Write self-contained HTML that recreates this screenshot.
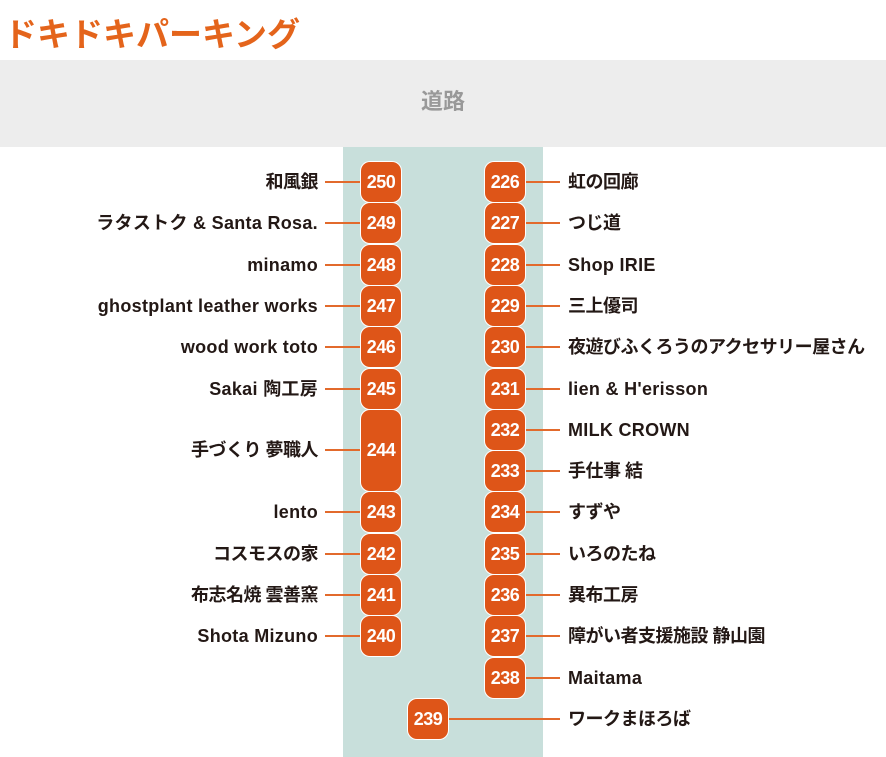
<!DOCTYPE html>
<html><head><meta charset="utf-8"><style>
body{margin:0;width:886px;height:757px;position:relative;background:#fff;overflow:hidden;font-family:"Liberation Sans","Noto Sans CJK JP",sans-serif;}
.title{position:absolute;left:4px;top:8px;font-size:33px;font-weight:bold;color:#e4641b;letter-spacing:0px;}
.road{position:absolute;left:0;top:60px;width:886px;height:87px;background:#ededed;color:#999;font-size:22px;font-weight:bold;text-align:center;line-height:84px;}
.strip{position:absolute;left:343px;top:147px;width:200px;height:610px;background:#c8dfdb;}
.b{position:absolute;width:40px;background:#de5518;color:#fff;font-weight:bold;font-size:18px;letter-spacing:-0.5px;text-align:center;border-radius:9px;box-shadow:0 0 0 1px #fff;}
.l{position:absolute;height:2px;background:#e26a2c;}
.t{position:absolute;font-size:18px;color:#231815;font-weight:bold;white-space:nowrap;line-height:24px;letter-spacing:0.3px;}
.tl{right:568px;text-align:right;}
.tr{left:568px;}
.j{letter-spacing:-0.5px;}
</style></head><body>
<div class="title">ドキドキパーキング</div>
<div class="road">道路</div>
<div class="strip"></div>
<div id="c"></div>
<script>
var c=document.getElementById('c'),h='';
function cy(i){return 182+41.3*i;}
var L=[['250','和風銀',0],['249','ラタストク & Santa Rosa.',1],['248','minamo',2],['247','ghostplant leather works',3],['246','wood work toto',4],['245','Sakai 陶工房',5],['244','手づくり 夢職人',6.5,1],['243','lento',8],['242','コスモスの家',9],['241','布志名焼 雲善窯',10],['240','Shota Mizuno',11]];
function isJ(s){return /[^\x00-\x7f]/.test(s)&&!/[a-z]/i.test(s);}
L.forEach(function(a){var y=cy(a[2]);var hh=a[3]?81:40;
h+='<div class="l" style="left:325px;width:36px;top:'+(y-1)+'px"></div>';
h+='<div class="b" style="left:361px;top:'+(y-hh/2)+'px;height:'+hh+'px;line-height:'+hh+'px">'+a[0]+'</div>';
h+='<div class="t tl'+(isJ(a[1])?' j':'')+'" style="top:'+(y-12)+'px">'+a[1]+'</div>';});
var R=['虹の回廊','つじ道','Shop IRIE','三上優司','夜遊びふくろうのアクセサリー屋さん','lien & H\'erisson','MILK CROWN','手仕事 結','すずや','いろのたね','異布工房','障がい者支援施設 静山園','Maitama'];
R.forEach(function(n,i){var y=cy(i);
h+='<div class="l" style="left:525px;width:35px;top:'+(y-1)+'px"></div>';
h+='<div class="b" style="left:485px;top:'+(y-20)+'px;height:40px;line-height:40px">'+(226+i)+'</div>';
h+='<div class="t tr'+(isJ(n)?' j':'')+'" style="top:'+(y-12)+'px">'+n+'</div>';});
var y=cy(13);
h+='<div class="l" style="left:448px;width:112px;top:'+(y-1)+'px"></div>';
h+='<div class="b" style="left:408px;top:'+(y-20)+'px;height:40px;line-height:40px">239</div>';
h+='<div class="t tr j" style="top:'+(y-12)+'px">ワークまほろば</div>';
c.innerHTML=h;
</script>
</body></html>
